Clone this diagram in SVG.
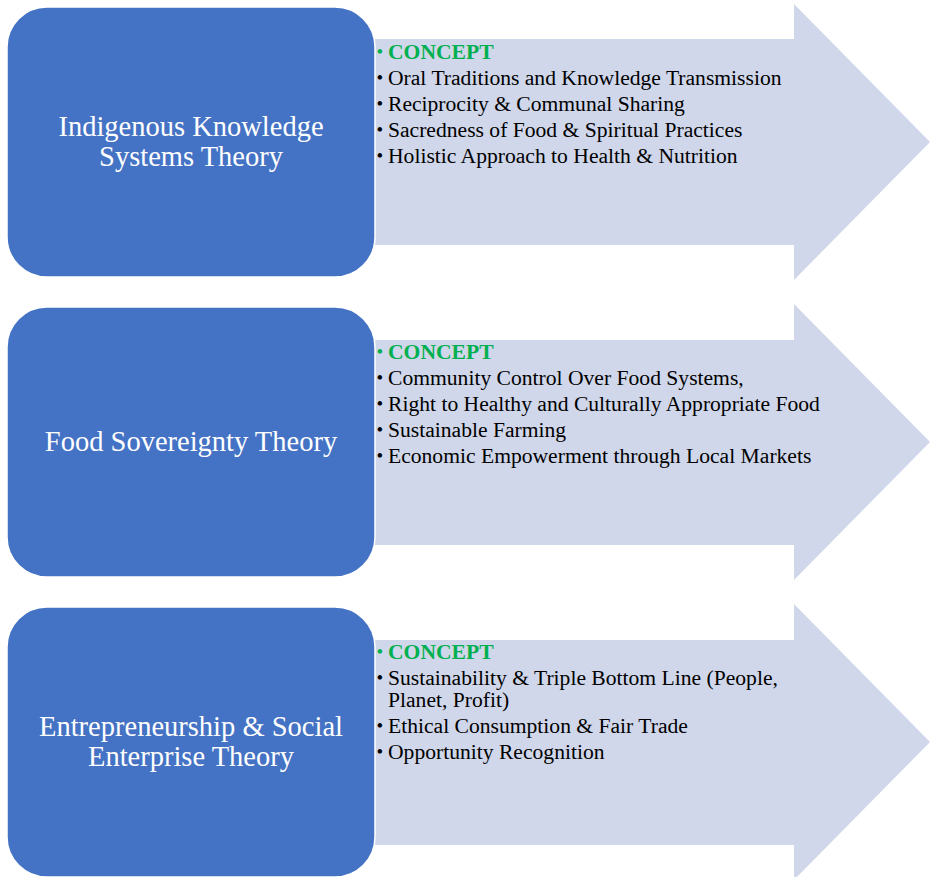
<svg xmlns="http://www.w3.org/2000/svg" width="930" height="877" viewBox="0 0 930 877">
<style>
.arrow{fill:#D0D7EA;}
.box{fill:#4472C4;stroke:#ffffff;stroke-width:1.5;}
.title{font-family:"Liberation Serif","Times New Roman",serif;font-size:28.5px;fill:#ffffff;text-anchor:middle;}
.item{font-family:"Liberation Serif","Times New Roman",serif;font-size:21.6px;fill:#000000;}
.concept{font-weight:bold;fill:#00B050;}
.b{font-size:19px;font-weight:normal;}
</style>
<rect width="930" height="877" fill="#ffffff"/>
<g id="connectors"></g>
<g id="block1">
<polygon class="arrow" points="375,39 794,39 794,4 930,142 794,280 794,245 375,245"/>
<rect class="box" x="7" y="7" width="368" height="270" rx="40" ry="40"/>
<text class="title" x="191" y="136">Indigenous Knowledge</text>
<text class="title" x="191" y="166">Systems Theory</text>
<text class="item concept" x="376.5" y="59"><tspan class="b" dy="-1">•</tspan><tspan x="388" dy="1">CONCEPT</tspan></text>
<text class="item" x="376.5" y="85"><tspan class="b" dy="-1">•</tspan><tspan x="388" dy="1">Oral Traditions and Knowledge Transmission</tspan></text>
<text class="item" x="376.5" y="111"><tspan class="b" dy="-1">•</tspan><tspan x="388" dy="1">Reciprocity &amp; Communal Sharing</tspan></text>
<text class="item" x="376.5" y="137"><tspan class="b" dy="-1">•</tspan><tspan x="388" dy="1">Sacredness of Food &amp; Spiritual Practices</tspan></text>
<text class="item" x="376.5" y="163"><tspan class="b" dy="-1">•</tspan><tspan x="388" dy="1">Holistic Approach to Health &amp; Nutrition</tspan></text>
</g>
<g id="block2">
<polygon class="arrow" points="375,340 794,340 794,304 930,442 794,580 794,545 375,545"/>
<rect class="box" x="7" y="307" width="368" height="270" rx="40" ry="40"/>
<text class="title" x="191" y="451">Food Sovereignty Theory</text>
<text class="item concept" x="376.5" y="359"><tspan class="b" dy="-1">•</tspan><tspan x="388" dy="1">CONCEPT</tspan></text>
<text class="item" x="376.5" y="385"><tspan class="b" dy="-1">•</tspan><tspan x="388" dy="1">Community Control Over Food Systems,</tspan></text>
<text class="item" x="376.5" y="411"><tspan class="b" dy="-1">•</tspan><tspan x="388" dy="1">Right to Healthy and Culturally Appropriate Food</tspan></text>
<text class="item" x="376.5" y="437"><tspan class="b" dy="-1">•</tspan><tspan x="388" dy="1">Sustainable Farming</tspan></text>
<text class="item" x="376.5" y="463"><tspan class="b" dy="-1">•</tspan><tspan x="388" dy="1">Economic Empowerment through Local Markets</tspan></text>
</g>
<g id="block3">
<polygon class="arrow" points="375,640 794,640 794,604 930,742 794,880 794,845 375,845"/>
<rect class="box" x="7" y="607" width="368" height="270" rx="40" ry="40"/>
<text class="title" x="191" y="736">Entrepreneurship &amp; Social</text>
<text class="title" x="191" y="766">Enterprise Theory</text>
<text class="item concept" x="376.5" y="659"><tspan class="b" dy="-1">•</tspan><tspan x="388" dy="1">CONCEPT</tspan></text>
<text class="item" x="376.5" y="685"><tspan class="b" dy="-1">•</tspan><tspan x="388" dy="1">Sustainability &amp; Triple Bottom Line (People,</tspan></text>
<text class="item" x="388" y="707">Planet, Profit)</text>
<text class="item" x="376.5" y="733"><tspan class="b" dy="-1">•</tspan><tspan x="388" dy="1">Ethical Consumption &amp; Fair Trade</tspan></text>
<text class="item" x="376.5" y="759"><tspan class="b" dy="-1">•</tspan><tspan x="388" dy="1">Opportunity Recognition</tspan></text>
</g>
</svg>
